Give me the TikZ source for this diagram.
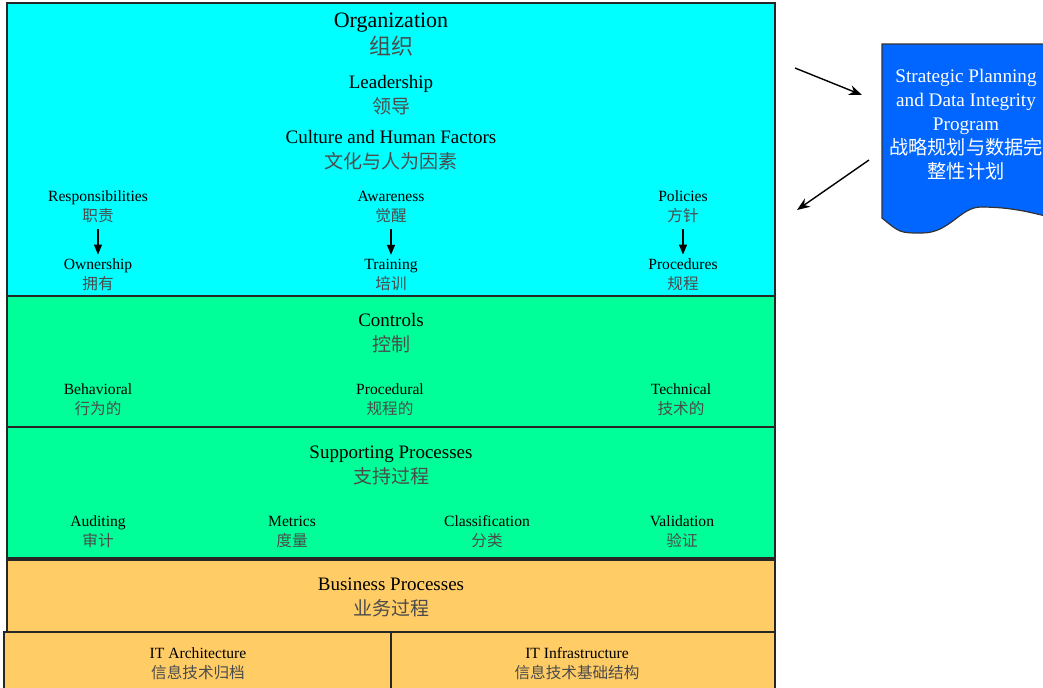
\documentclass[tikz,border=0pt]{standalone}
\usepackage{fontspec}
\setmainfont{Liberation Serif}
\newfontfamily\zh{Noto Sans CJK SC}
\usepackage{xcolor}
\usetikzlibrary{arrows.meta,positioning}
\definecolor{orgcyan}{RGB}{0,255,255}
\definecolor{ctlgreen}{RGB}{0,255,153}
\definecolor{bizorange}{RGB}{255,204,102}
\definecolor{progblue}{RGB}{0,102,255}
\definecolor{zhgray}{RGB}{75,75,75}
\newcommand\cn[1]{{\zh\color{zhgray}#1}}

\begin{document}
\begin{tikzpicture}[x=0.5pt,y=-0.5pt,
  band/.style={draw=black!85,line width=0.8pt},
  big/.style={align=center,inner sep=0pt,font=\fontsize{11}{13.5}\selectfont},
  head/.style={align=center,inner sep=0pt,font=\fontsize{9.5}{12.5}\selectfont},
  lbl/.style={align=center,inner sep=0pt,font=\fontsize{7.8}{10}\selectfont},
  arr/.style={-{Triangle[length=5pt,width=4pt]},line width=0.6pt,shorten <=3pt,shorten >=2pt},
  bigarr/.style={-{Stealth[length=6.5pt,width=5pt]},line width=0.7pt}
]
\useasboundingbox (0,0) rectangle (1043,687);
% bands
\filldraw[band,fill=orgcyan] (7,3) rectangle (775,296);
\filldraw[band,fill=ctlgreen] (7,296) rectangle (775,427);
\filldraw[band,fill=ctlgreen] (7,427) rectangle (775,558);
\filldraw[band,fill=bizorange] (7,560) rectangle (775,632);
\filldraw[band,fill=bizorange] (4,632) rectangle (391,700);
\filldraw[band,fill=bizorange] (391,632) rectangle (775,700);

% organization
\node[big] (org) at (391,35) {Organization\\\cn{组织}};
\node[head] (lead) at (391,95) {Leadership\\\cn{领导}};
\node[head] (cult) at (391,150) {Culture and Human Factors\\\cn{文化与人为因素}};
\node[lbl] (resp) at (98,207) {Responsibilities\\\cn{职责}};
\node[lbl] (aware) at (391,207) {Awareness\\\cn{觉醒}};
\node[lbl] (pol) at (683,207) {Policies\\\cn{方针}};
\node[lbl] (own) at (98,275) {Ownership\\\cn{拥有}};
\node[lbl] (train) at (391,275) {Training\\\cn{培训}};
\node[lbl] (proc) at (683,275) {Procedures\\\cn{规程}};
\draw[arr] (resp) -- (own);
\draw[arr] (aware) -- (train);
\draw[arr] (pol) -- (proc);

% controls
\node[head] (ctl) at (391,333) {Controls\\\cn{控制}};
\node[lbl] (beh) at (98,400) {Behavioral\\\cn{行为的}};
\node[lbl] (prcd) at (390,400) {Procedural\\\cn{规程的}};
\node[lbl] (tech) at (681,400) {Technical\\\cn{技术的}};

% supporting processes
\node[head] (supp) at (391,465) {Supporting Processes\\\cn{支持过程}};
\node[lbl] (audit) at (98,532) {Auditing\\\cn{审计}};
\node[lbl] (metr) at (292,532) {Metrics\\\cn{度量}};
\node[lbl] (class) at (487,532) {Classification\\\cn{分类}};
\node[lbl] (valid) at (682,532) {Validation\\\cn{验证}};

% business processes
\node[head] (biz) at (391,597) {Business Processes\\\cn{业务过程}};
\node[lbl] (itarch) at (198,664) {IT Architecture\\\cn{信息技术归档}};
\node[lbl] (itinfra) at (577,664) {IT Infrastructure\\\cn{信息技术基础结构}};

% strategic program
\filldraw[draw=black!80,line width=0.6pt,fill=progblue] (882,44) -- (1053,44) -- (1053,218)
  .. controls (1030,212) and (1010,207) .. (981,207)
  .. controls (960,207) and (950,233) .. (922,233)
  .. controls (900,233) .. (882,218) -- cycle;
\node[head,text=white,font=\fontsize{9.6}{12}\selectfont] (prog) at (966,125)
  {Strategic Planning\\and Data Integrity\\Program\\{\zh 战略规划与数据完}\\{\zh 整性计划}};
\coordinate (outA) at (795,68);
\coordinate (inA) at (862,95);
\coordinate (outB) at (869,160);
\coordinate (inB) at (797,210);
\draw[bigarr] (outA) -- (inA);
\draw[bigarr] (outB) -- (inB);
\end{tikzpicture}
\end{document}
